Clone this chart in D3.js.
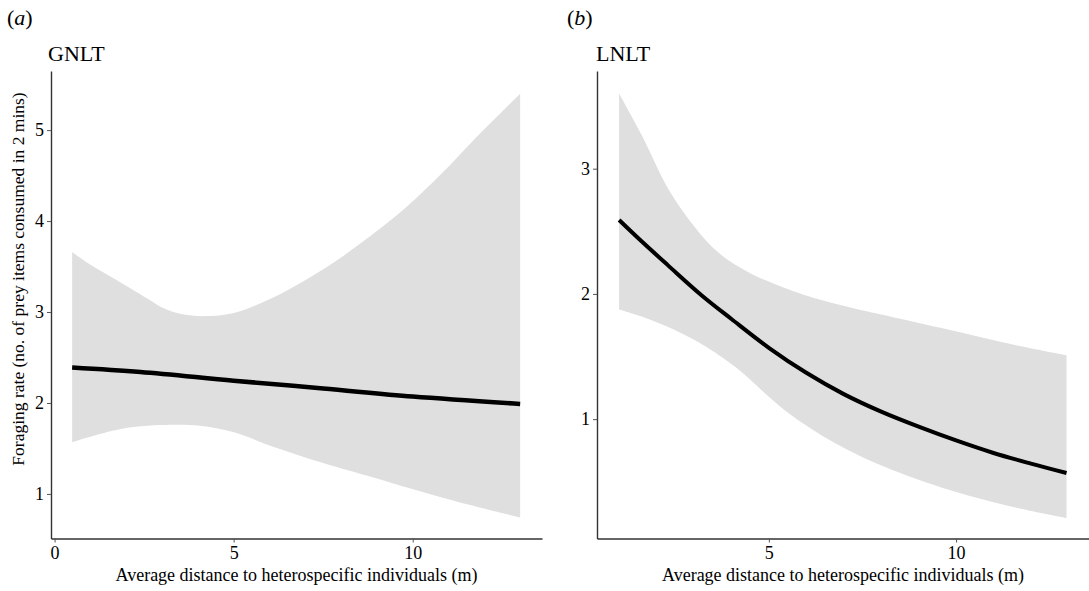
<!DOCTYPE html>
<html>
<head>
<meta charset="utf-8">
<script src="https://cdn.jsdelivr.net/npm/d3@7"></script>
<style>
  html, body { margin: 0; padding: 0; background: #fff; }
  svg { display: block; }
  text { font-family: "Liberation Serif", "Times New Roman", serif; fill: #000; }
</style>
</head>
<body>
<svg id="chart" width="1089" height="591"></svg>
<script>
// ---------- Data ----------
// Panel (a) GNLT
const gnltFitX   = [0.49, 2.4, 5.0, 7.5, 10.0, 13.0];
const gnltFitY   = [2.39, 2.34, 2.245, 2.16, 2.07, 1.99];
const gnltUpperX = [0.49, 1.0, 1.74, 2.67, 3.0, 3.5, 4.2, 5.0, 6.0, 7.0, 8.0, 9.0, 9.84, 10.8, 11.7, 13.0];
const gnltUpperY = [3.66, 3.52, 3.35, 3.13, 3.05, 2.98, 2.955, 2.99, 3.14, 3.35, 3.60, 3.89, 4.16, 4.52, 4.89, 5.40];
const gnltLowerX = [0.49, 1.92, 3.23, 4.06, 4.99, 6.1, 7.5, 8.9, 9.84, 11.2, 13.0];
const gnltLowerY = [1.57, 1.72, 1.76, 1.75, 1.68, 1.52, 1.34, 1.18, 1.07, 0.92, 0.74];
const gnltXTicks = [0, 5, 10];
const gnltYTicks = [1, 2, 3, 4, 5];

// Panel (b) LNLT
const lnltFitX   = [1.0, 1.6, 2.3, 3.2, 4.0, 5.0, 6.0, 7.0, 8.0, 9.0, 10.0, 11.0, 12.0, 12.95];
const lnltFitY   = [2.59, 2.42, 2.23, 1.99, 1.80, 1.57, 1.37, 1.20, 1.06, 0.94, 0.83, 0.73, 0.645, 0.57];
const lnltUpperX = [1.0, 1.6, 2.31, 3.03, 3.65, 4.54, 5.87, 7.2, 8.1, 9.87, 11.6, 12.95];
const lnltUpperY = [3.60, 3.27, 2.84, 2.53, 2.33, 2.16, 2.00, 1.89, 1.83, 1.71, 1.59, 1.51];
const lnltLowerX = [1.0, 1.87, 3.03, 4.09, 5.43, 6.76, 8.09, 9.87, 11.65, 12.95];
const lnltLowerY = [1.875, 1.79, 1.63, 1.42, 1.07, 0.81, 0.62, 0.43, 0.29, 0.21];
const lnltXTicks = [5, 10];
const lnltYTicks = [1, 2, 3];

const xTitle = "Average distance to heterospecific individuals (m)";
const yTitle = "Foraging rate (no. of prey items consumed in 2 mins)";

// ---------- Drawing ----------
const svg = d3.select("#chart");
const curve = d3.curveCatmullRom.alpha(0.5);

function drawPanel(cfg) {
  const g = svg.append("g");
  const x = d3.scaleLinear().domain(cfg.xDomain).range([cfg.left, cfg.right]);
  const y = d3.scaleLinear().domain(cfg.yDomain).range([cfg.bottom, cfg.top]);

  const line = d3.line().x(d => x(d[0])).y(d => y(d[1])).curve(curve);
  const up = cfg.ux.map((v, i) => [v, cfg.uy[i]]);
  const lo = cfg.lx.map((v, i) => [v, cfg.ly[i]]);
  const upPath = line(up);
  const loRev = line(lo.slice().reverse());
  g.append("path")
    .attr("d", upPath + "L" + loRev.slice(1) + "Z")
    .attr("fill", "#dfdfdf")
    .attr("stroke", "none");

  g.append("path")
    .datum(cfg.fx.map((v, i) => [v, cfg.fy[i]]))
    .attr("d", line)
    .attr("fill", "none")
    .attr("stroke", "#000")
    .attr("stroke-width", cfg.lineWidth)
    .attr("stroke-linecap", "butt");

  const xAxis = d3.axisBottom(x).tickValues(cfg.xTicks).tickSize(4).tickSizeOuter(0).tickPadding(4)
    .tickFormat(d3.format("d"));
  const yAxis = d3.axisLeft(y).tickValues(cfg.yTicks).tickSize(4).tickSizeOuter(0).tickPadding(3)
    .tickFormat(d3.format("d"));

  const gx = g.append("g").attr("transform", `translate(0,${cfg.bottom})`).call(xAxis);
  const gy = g.append("g").attr("transform", `translate(${cfg.left},0)`).call(yAxis);
  [gx, gy].forEach(a => {
    a.select(".domain").attr("stroke", "#333").attr("stroke-width", 1.4);
    a.selectAll(".tick line").attr("stroke", "#555").attr("stroke-width", 1);
    a.selectAll(".tick text")
      .attr("fill", "#000")
      .style("font-family", '"Liberation Serif", "Times New Roman", serif')
      .style("font-size", "18px");
  });

  g.append("text")
    .attr("x", (cfg.left + cfg.right) / 2)
    .attr("y", 581)
    .attr("text-anchor", "middle")
    .style("font-size", "18px")
    .text(xTitle);

  const tag = g.append("text").attr("x", cfg.tagX).attr("y", 25).style("font-size", "22px");
  tag.append("tspan").text("(");
  tag.append("tspan").style("font-style", "italic").text(cfg.tag);
  tag.append("tspan").text(")");

  g.append("text")
    .attr("x", cfg.titleX)
    .attr("y", 61)
    .style("font-size", "22px")
    .text(cfg.title);
}

drawPanel({
  left: 51, right: 542, top: 71, bottom: 538.5,
  xDomain: [-0.1, 13.61], yDomain: [0.51, 5.65],
  ux: gnltUpperX, uy: gnltUpperY, lx: gnltLowerX, ly: gnltLowerY,
  fx: gnltFitX, fy: gnltFitY,
  xTicks: gnltXTicks, yTicks: gnltYTicks,
  lineWidth: 4.5, tag: "a", tagX: 7, title: "GNLT", titleX: 48
});

drawPanel({
  left: 597, right: 1089, top: 71, bottom: 538.5,
  xDomain: [0.41, 13.55], yDomain: [0.047, 3.78],
  ux: lnltUpperX, uy: lnltUpperY, lx: lnltLowerX, ly: lnltLowerY,
  fx: lnltFitX, fy: lnltFitY,
  xTicks: lnltXTicks, yTicks: lnltYTicks,
  lineWidth: 4, tag: "b", tagX: 567, title: "LNLT", titleX: 596
});

svg.append("text")
  .attr("transform", "translate(24,279) rotate(-90)")
  .attr("text-anchor", "middle")
  .style("font-size", "17.5px")
  .text(yTitle);
</script>
</body>
</html>
